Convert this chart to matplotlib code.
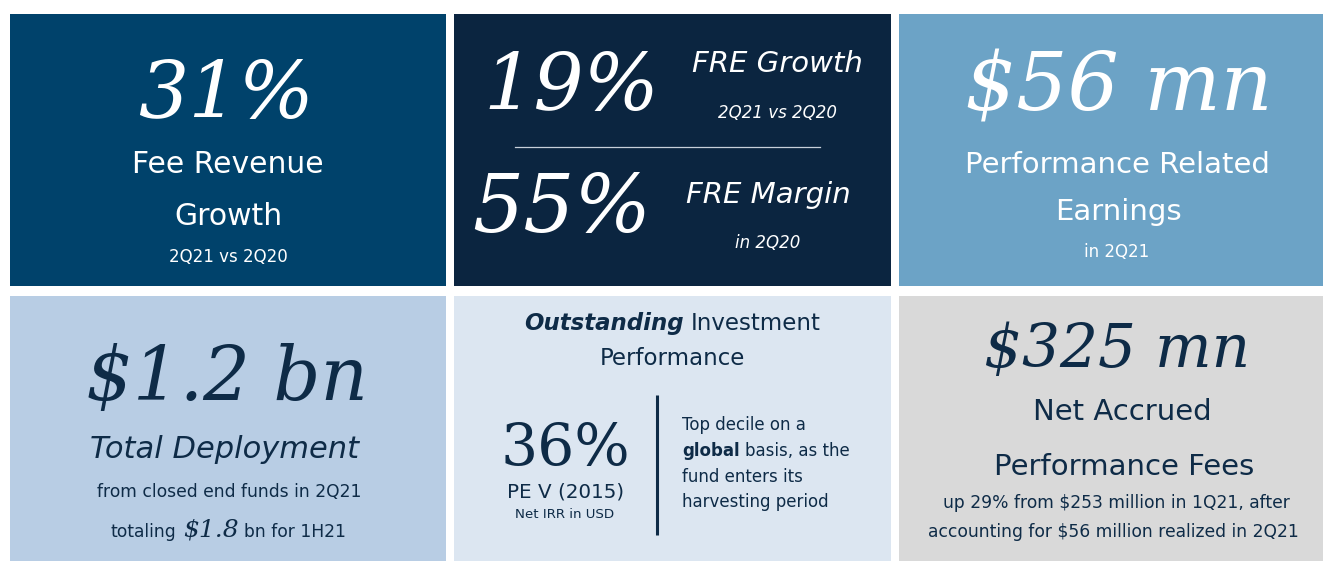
import matplotlib
matplotlib.use("Agg")
import matplotlib.pyplot as plt
from matplotlib.patches import Rectangle

plt.rcParams["text.parse_math"] = False

# --- slide content -------------------------------------------------------
fee_value = "31%"
fee_label = ["Fee Revenue", "Growth"]
fee_period = "2Q21 vs 2Q20"

fre_growth_value = "19%"
fre_growth_label = "FRE Growth"
fre_growth_period = "2Q21 vs 2Q20"
fre_margin_value = "55%"
fre_margin_label = "FRE Margin"
fre_margin_period = "in 2Q20"

pre_value = "$56 mn"
pre_label = ["Performance Related", "Earnings"]
pre_period = "in 2Q21"

deploy_value = "$1.2 bn"
deploy_label = "Total Deployment"
deploy_note = "from closed end funds in 2Q21"
deploy_total = ["totaling", "$1.8", "bn for 1H21"]

irr_title = ["Outstanding", "Investment", "Performance"]
irr_value = "36%"
irr_fund = "PE V (2015)"
irr_basis = "Net IRR in USD"
irr_comment = ["Top decile on a", "global", "basis, as the",
               "fund enters its", "harvesting period"]

accrued_value = "$325 mn"
accrued_label = ["Net Accrued", "Performance Fees"]
accrued_note = ["up 29% from $253 million in 1Q21, after",
                "accounting for $56 million realized in 2Q21"]

# --- styling ---------------------------------------------------------------
W, H = 1323, 561
SANS = "DejaVu Sans"
SERIF = "DejaVu Serif"
NAVY = "#0e2b47"
WHITE = "white"
TILES = [  # x0, y0, x1, y1, colour
    (10, 14, 446, 286, "#00426b"),
    (454, 14, 891, 286, "#0b2540"),
    (899, 14, 1323, 286, "#6ca3c6"),
    (10, 296, 446, 561, "#b8cde4"),
    (454, 296, 891, 561, "#dce6f1"),
    (899, 296, 1323, 561, "#d9d9d9"),
]

fig = plt.figure(figsize=(W / 100, H / 100), dpi=100)
ax = fig.add_axes([0, 0, 1, 1])
ax.set_xlim(0, W)
ax.set_ylim(H, 0)
ax.axis("off")

for x0, y0, x1, y1, c in TILES:
    ax.add_patch(Rectangle((x0, y0), x1 - x0, y1 - y0, color=c, lw=0))


def txt(x, y, s, size, color, family=SANS, style="normal", weight="normal",
        ha="center"):
    return ax.text(x, y, s, fontsize=size, color=color, family=family,
                   style=style, weight=weight, ha=ha, va="baseline")


def runs(x, y, parts, ha="center", gap=0.3):
    # lay out mixed-font pieces on one baseline
    r = fig.canvas.get_renderer()
    arts = [txt(0, y, s, ha="left", **kw) for s, kw in parts]
    ws = [a.get_window_extent(r).width for a in arts]
    gaps = [gap * kw["size"] * 100 / 72 for _, kw in parts]
    total = sum(ws) + sum(gaps[1:])
    cur = x - total / 2 if ha == "center" else x
    for i, (a, w) in enumerate(zip(arts, ws)):
        if i:
            cur += gaps[i]
        a.set_x(cur)
        cur += w


# tile 1
txt(226, 118, fee_value, 57, WHITE, SERIF, "italic")
txt(228, 173, fee_label[0], 21.5, WHITE)
txt(228, 225, fee_label[1], 21.5, WHITE)
txt(228, 262, fee_period, 12, WHITE)

# tile 2
txt(571, 110, fre_growth_value, 57, WHITE, SERIF, "italic")
txt(777, 72, fre_growth_label, 21, WHITE, style="italic")
txt(777, 118, fre_growth_period, 12, WHITE, style="italic")
ax.plot([515, 820], [147, 147], color="#c8d0da", lw=0.9)
txt(562, 232, fre_margin_value, 58, WHITE, SERIF, "italic")
txt(768, 203, fre_margin_label, 21, WHITE, style="italic")
txt(768, 248, fre_margin_period, 12, WHITE, style="italic")

# tile 3
txt(1119, 110, pre_value, 58, WHITE, SERIF, "italic")
txt(1117, 173, pre_label[0], 21, WHITE)
txt(1118, 220, pre_label[1], 21, WHITE)
txt(1117, 257, pre_period, 12, WHITE)

# tile 4
txt(227, 400, deploy_value, 53, NAVY, SERIF, "italic")
txt(225, 458, deploy_label, 22, NAVY, style="italic")
txt(229, 497, deploy_note, 12.3, NAVY)
runs(228, 537, [(deploy_total[0], dict(size=12.3, color=NAVY)),
                (deploy_total[1], dict(size=18, color=NAVY, family=SERIF,
                                       style="italic")),
                (deploy_total[2], dict(size=12.3, color=NAVY))])

# tile 5
runs(672, 330, [(irr_title[0], dict(size=16.5, color=NAVY, style="italic",
                                    weight="bold")),
                (irr_title[1], dict(size=16.5, color=NAVY))])
txt(672, 365, irr_title[2], 16.5, NAVY)
txt(565, 465, irr_value, 42, NAVY, SERIF)
txt(566, 497, irr_fund, 14.3, NAVY)
txt(565, 518, irr_basis, 9.6, NAVY)
ax.plot([657, 657], [395, 535], color=NAVY, lw=2.2, solid_capstyle="butt")
txt(682, 430, irr_comment[0], 12, NAVY, ha="left")
runs(682, 456, [(irr_comment[1], dict(size=12, color=NAVY, weight="bold")),
                (irr_comment[2], dict(size=12, color=NAVY))], ha="left")
txt(682, 482, irr_comment[3], 12, NAVY, ha="left")
txt(682, 507, irr_comment[4], 12, NAVY, ha="left")

# tile 6
txt(1117, 367, accrued_value, 43, NAVY, SERIF, "italic")
txt(1122, 420, accrued_label[0], 21, NAVY)
txt(1124, 475, accrued_label[1], 21, NAVY)
txt(1116, 508, accrued_note[0], 12.3, NAVY)
txt(1113, 537, accrued_note[1], 12.3, NAVY)

fig.savefig("out.png", dpi=100, facecolor="white")
